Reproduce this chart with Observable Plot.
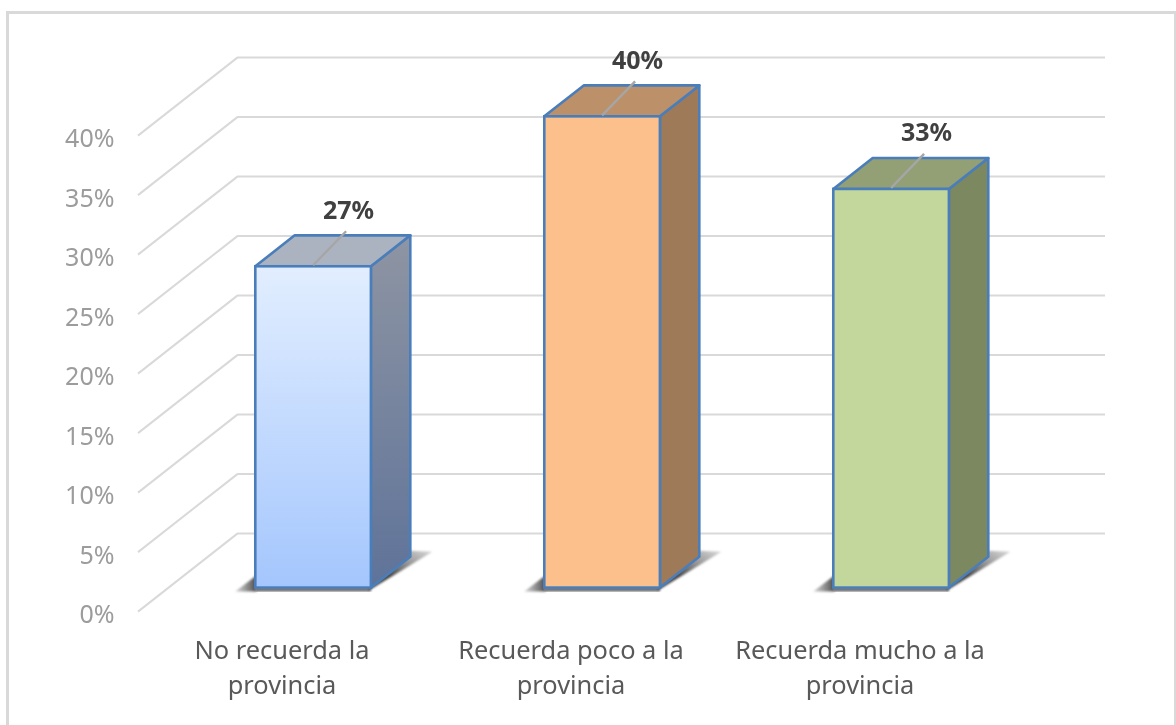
<!DOCTYPE html>
<html lang="es">
<head>
<meta charset="utf-8">
<script src="https://cdn.jsdelivr.net/npm/d3@7"></script>
<script src="https://cdn.jsdelivr.net/npm/@observablehq/plot@0.6"></script>
<style>
  html, body { margin: 0; padding: 0; background: #fff; overflow: hidden; }
  #chart { position: absolute; left: 0; top: 0; width: 1176px; height: 725px; }
  #chart svg { filter: blur(0.45px); }
  #edge { position: absolute; left: 6px; top: 11px; right: 0; height: 760px; box-sizing: border-box;
          border: solid #d9d9d9; border-width: 3px 2px 0 3px; pointer-events: none; }
</style>
</head>
<body>
<div id="chart"></div>
<div id="edge"></div>
<script>
const categories = ["No recuerda la provincia", "Recuerda poco a la provincia", "Recuerda mucho a la provincia"];
const axisLabels = ["No recuerda la\nprovincia", "Recuerda poco a la\nprovincia", "Recuerda mucho a la\nprovincia"];
const values = [27, 39.6, 33.5];
const valueLabels = ["27%", "40%", "33%"];
const yTicks = [0, 5, 10, 15, 20, 25, 30, 35, 40];
const frontColors = [["#e2eeff", "#a4c6fd"], ["#fbc08c", "#fbc08c"], ["#c3d69b", "#c3d69b"]];
const sideColors = [["#8e95a3", "#5f7399"], ["#9e7a58", "#9e7a58"], ["#7c8860", "#7c8860"]];
const topColors = ["#acb3c0", "#bc9069", "#939f74"];

const depthX = 100, depthY = -78.5, near = 0.306, far = 0.70;
const edgeColor = "#4a7ebb", edgeWidth = 2.6;
const rows = categories.map((c, i) => ({c, v: values[i], label: valueLabels[i], i}));

function defs() {
  const g = d3.create("svg:defs");
  const add = (id, stops, x2, y2) => {
    const lg = g.append("linearGradient").attr("id", id).attr("x1", 0).attr("y1", 0).attr("x2", x2).attr("y2", y2);
    lg.selectAll("stop").data(stops).join("stop")
      .attr("offset", (d, i) => i).attr("stop-color", d => d);
  };
  frontColors.forEach((s, i) => add("front" + i, s, 0, 1));
  sideColors.forEach((s, i) => add("side" + i, s, 0, 1));
  const sh = g.append("linearGradient").attr("id", "shadowRight").attr("x1", 0).attr("y1", 1).attr("x2", 1).attr("y2", 0);
  sh.append("stop").attr("offset", 0.35).attr("stop-color", "#4a4a4a");
  sh.append("stop").attr("offset", 1).attr("stop-color", "#8a8a8a").attr("stop-opacity", 0.35);
  const sl = g.append("linearGradient").attr("id", "shadowLeft").attr("x1", 0).attr("y1", 0).attr("x2", 1).attr("y2", 0);
  sl.append("stop").attr("offset", 0).attr("stop-color", "#8a8a8a").attr("stop-opacity", 0.4);
  sl.append("stop").attr("offset", 1).attr("stop-color", "#4a4a4a");
  g.append("filter").attr("id", "soft").append("feGaussianBlur").attr("stdDeviation", 1);
  return g.node();
}

function diagonals(index, {x, y}, ch, dim) {
  const g = d3.create("svg:g");
  g.selectAll("line").data(yTicks).join("line")
    .attr("x1", dim.marginLeft).attr("y1", d => y(d))
    .attr("x2", dim.marginLeft + depthX).attr("y2", d => y(d) + depthY)
    .attr("stroke", "#d9d9d9").attr("stroke-width", 2);
  return g.node();
}

const polygon = pts => pts.map(p => p.join(",")).join(" ");

function bars3d(index, {x, y}) {
  const g = d3.create("svg:g");
  const bw = x.bandwidth();
  const P = (c, frac, v, depth) => [x(c) + frac * bw + depth * depthX, y(v) + depth * depthY];
  for (const d of rows) {
    const a = P(d.c, 0, 0, near), b = P(d.c, 1, 0, near), e = P(d.c, 1, 0, far);
    g.append("polygon").attr("points", polygon([[a[0] - 20, a[1] + 4], [a[0] + 1, a[1] - 12], [a[0] + 1, a[1] + 4]]))
      .attr("fill", "url(#shadowLeft)").attr("filter", "url(#soft)");
    g.append("polygon").attr("points", polygon([[a[0], a[1] + 4], [b[0], b[1] + 4], [b[0], b[1]], [a[0], a[1]]]))
      .attr("fill", "#6a6a6a").attr("filter", "url(#soft)");
    g.append("polygon").attr("points", polygon([[b[0] - 2, b[1] + 3], [e[0] + 22, e[1] - 5], [e[0], e[1] - 6], [b[0] - 2, b[1] - 6]]))
      .attr("fill", "url(#shadowRight)").attr("filter", "url(#soft)");
    g.append("polygon").attr("points", polygon([P(d.c, 1, 0, near), P(d.c, 1, 0, far), P(d.c, 1, d.v, far), P(d.c, 1, d.v, near)]))
      .attr("fill", `url(#side${d.i})`).attr("stroke", edgeColor).attr("stroke-width", edgeWidth).attr("stroke-linejoin", "round");
    g.append("polygon").attr("points", polygon([P(d.c, 0, d.v, near), P(d.c, 1, d.v, near), P(d.c, 1, d.v, far), P(d.c, 0, d.v, far)]))
      .attr("fill", topColors[d.i]).attr("stroke", edgeColor).attr("stroke-width", edgeWidth).attr("stroke-linejoin", "round");
  }
  return g.node();
}

function leaders(index, {x, y}) {
  const g = d3.create("svg:g");
  const bw = x.bandwidth();
  for (const d of rows) {
    const x0 = x(d.c) + bw / 2 + near * depthX, y0 = y(d.v) + near * depthY;
    g.append("line").attr("x1", x0).attr("y1", y0 - 1).attr("x2", x0 + 33).attr("y2", y0 - 35)
      .attr("stroke", "#a6a6a6").attr("stroke-width", 2.4);
  }
  return g.node();
}

const plot = Plot.plot({
  width: 1176,
  height: 725,
  marginLeft: 138,
  marginRight: 171,
  marginTop: 135.6,
  marginBottom: 113.4,
  style: {fontFamily: "'Noto Sans', 'Open Sans', sans-serif", background: "transparent", overflow: "visible"},
  x: {domain: categories, paddingInner: 0.6, paddingOuter: 0.3, round: false, label: null},
  y: {domain: [0, 40], label: null},
  marks: [
    defs,
    Plot.ruleY(yTicks, {dx: depthX, dy: depthY, stroke: "#d9d9d9", strokeWidth: 2}),
    diagonals,
    bars3d,
    Plot.barY(rows, {
      x: "c", y: "v",
      fill: d => `url(#front${d.i})`,
      stroke: edgeColor, strokeWidth: edgeWidth,
      dx: near * depthX, dy: near * depthY
    }),
    leaders,
    Plot.text(rows, {
      x: "c", y: "v", text: "label",
      dx: near * depthX + 35, dy: near * depthY - 56,
      fontSize: 25, fontWeight: 700, fill: "#404040"
    }),
    Plot.axisY({
      ticks: yTicks, tickSize: 0, tickPadding: 24, dy: 3,
      tickFormat: d => d + "%", fontSize: 25, color: "#9c9c9c", label: null
    }),
    Plot.axisX({
      tickSize: 0, tickPadding: 22, fontSize: 25.4, lineHeight: 1.38, dx: -1,
      tickFormat: c => axisLabels[categories.indexOf(c)], color: "#595959", label: null
    })
  ]
});
document.getElementById("chart").append(plot);
</script>
</body>
</html>
